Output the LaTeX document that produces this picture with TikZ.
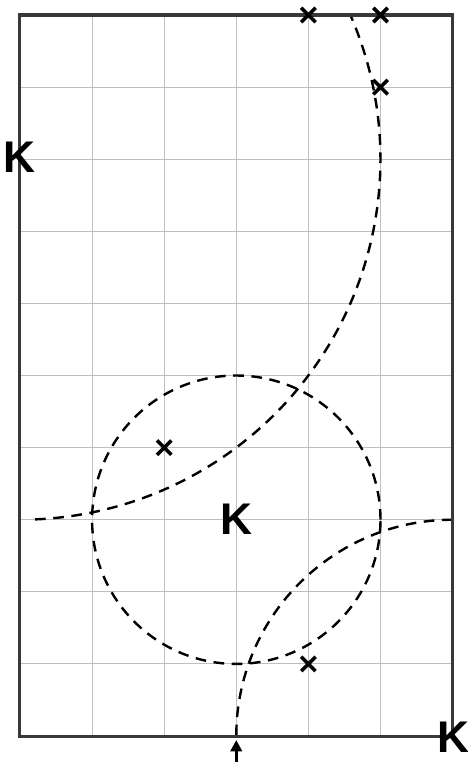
\documentclass[tikz,border=0pt]{standalone}
\usepackage{fontspec}
\setmainfont{Liberation Sans}
\usetikzlibrary{arrows.meta}
\begin{document}
\begin{tikzpicture}[x=1cm,y=1cm,
  gridline/.style={draw=black!25, line width=0.4pt},
  frameline/.style={draw=black!78, line width=1.2pt},
  locus/.style={draw=black, line width=0.95pt, dash pattern=on 4.2pt off 3pt},
  klabel/.style={font=\bfseries\fontsize{17.5}{19}\selectfont, inner sep=0pt},
  xmark/.style={line width=1.4pt}]
\useasboundingbox (-0.277,-0.36) rectangle (6.2,10.208);
% grid
\draw[gridline] (0,0) grid (6,10);
% loci
\draw[locus] (0,8) ++(-87.6:5) arc[start angle=-87.6, end angle=23.58, radius=5];
\draw[locus] (3,3) circle[radius=2];
\draw[locus] (6,3) arc[start angle=90, end angle=180, radius=3];
% frame
\draw[frameline] (0,0) rectangle (6,10);
% crosses
\foreach \n/\cx/\cy in {c1/4/10, c2/5/10, c3/5/9, c4/2/4, c5/4/1}{
  \coordinate (\n) at (\cx,\cy);
  \draw[xmark] (\n) ++(-0.1,-0.1) -- ++(0.2,0.2);
  \draw[xmark] (\n) ++(-0.1,0.1) -- ++(0.2,-0.2);
}
% labels
\node[klabel] (kl) at (0,8.03) {K};
\node[klabel] (kc) at (3,3) {K};
\node[klabel] (kr) at (6.01,-0.02) {K};
% arrow
\coordinate (a0) at (3,-0.37);
\coordinate (a1) at (3,-0.055);
\draw[line width=1.3pt, -{Stealth[length=4.5pt,width=4.5pt,inset=0pt]}] (a0) -- (a1);
\end{tikzpicture}
\end{document}
